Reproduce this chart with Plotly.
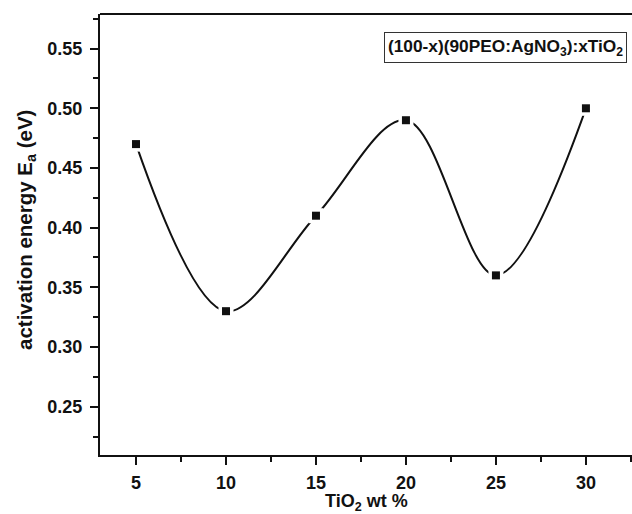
import plotly.graph_objects as go

tio2_wt = [5, 10, 15, 20, 25, 30]
activation_energy = [0.47, 0.33, 0.41, 0.49, 0.36, 0.50]
x_ticks = [5, 10, 15, 20, 25, 30]
x_tick_labels = ["5", "10", "15", "20", "25", "30"]
y_ticks = [0.25, 0.30, 0.35, 0.40, 0.45, 0.50, 0.55]
y_tick_labels = ["0.25", "0.30", "0.35", "0.40", "0.45", "0.50", "0.55"]

FONT = "Liberation Sans, Arial, sans-serif"
INK = "#111111"

fig = go.Figure()
fig.add_trace(go.Scatter(
    x=tio2_wt, y=activation_energy, mode="lines",
    line=dict(color=INK, width=2, shape="spline", smoothing=1.0),
    hoverinfo="skip", showlegend=False))
fig.add_trace(go.Scatter(
    x=tio2_wt, y=activation_energy, mode="markers",
    marker=dict(symbol="square", size=15, color="white"),
    hoverinfo="skip", showlegend=False))
fig.add_trace(go.Scatter(
    x=tio2_wt, y=activation_energy, mode="markers",
    marker=dict(symbol="square", size=8, color=INK),
    showlegend=False))

axis_common = dict(
    showgrid=False, zeroline=False, showline=True, linecolor=INK, linewidth=2,
    ticks="outside", tickcolor=INK, tickwidth=2, ticklen=8,
    tickfont=dict(family=FONT, size=18, color=INK, weight="bold"),
)
fig.update_xaxes(range=[3, 32.56], tickvals=x_ticks,
                 ticktext=x_tick_labels, mirror=False,
                 ticklabelstandoff=2,
                 minor=dict(ticks="outside", ticklen=5, tickwidth=2, tickcolor=INK, dtick=2.5, tick0=0),
                 **axis_common)
fig.update_yaxes(range=[0.2095, 0.579], tickvals=y_ticks,
                 ticktext=y_tick_labels,
                 mirror=False, ticklabelstandoff=4,
                 minor=dict(ticks="outside", ticklen=5, tickwidth=2, tickcolor=INK, dtick=0.025, tick0=0),
                 **axis_common)

# top border line
fig.add_shape(type="line", xref="paper", yref="paper", x0=0, x1=1, y0=1, y1=1,
              line=dict(color=INK, width=2))

W, H = 632, 514
L, R, T, B = 100, 0, 14, 59
pw, ph = W - L - R, H - T - B

def px_x(p):
    return (p - L) / pw

def px_y(p):
    return 1 - (p - T) / ph

fig.add_annotation(text="TiO<sub>2</sub> wt %", xref="paper", yref="paper",
                   x=px_x(366), y=px_y(503), xanchor="center", yanchor="middle",
                   showarrow=False,
                   font=dict(family=FONT, size=18, color=INK, weight="bold"))
fig.add_annotation(text="activation energy E<sub>a</sub> (eV)", xref="paper", yref="paper",
                   x=px_x(26), y=px_y(230), xanchor="center", yanchor="middle",
                   showarrow=False, textangle=-90,
                   font=dict(family=FONT, size=20.5, color=INK, weight="bold"))
fig.add_annotation(text="(100-x)(90PEO:AgNO<sub>3</sub>):xTiO<sub>2</sub>",
                   xref="paper", yref="paper", x=px_x(627), y=px_y(32),
                   xanchor="right", yanchor="top", showarrow=False,
                   bordercolor="#333333", borderwidth=1, borderpad=3, bgcolor="white",
                   font=dict(family=FONT, size=17.3, color=INK, weight="bold"))

fig.update_layout(width=W, height=H, margin=dict(l=L, r=R, t=T, b=B),
                  paper_bgcolor="white", plot_bgcolor="white", showlegend=False)

fig.write_html("out.html")
